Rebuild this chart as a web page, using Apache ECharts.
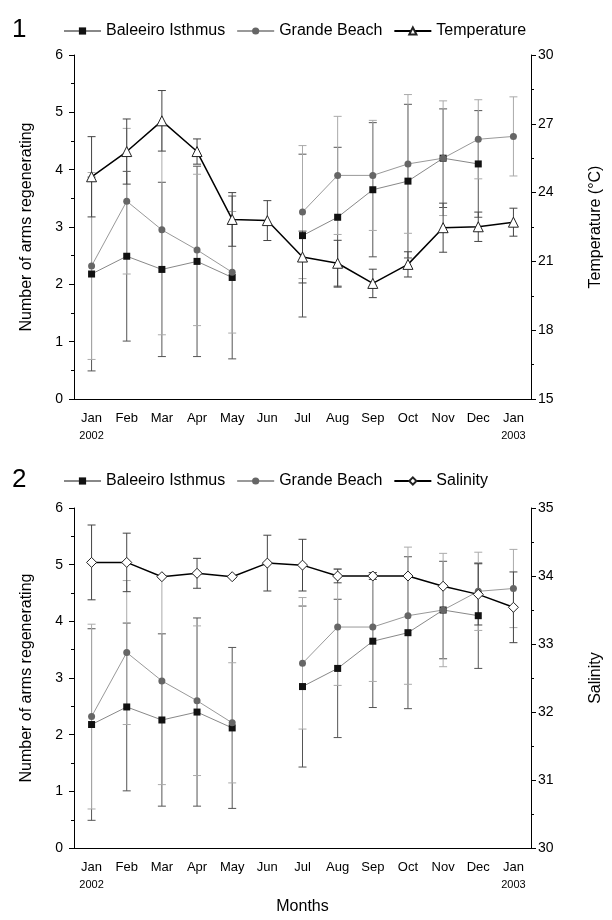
<!DOCTYPE html>
<html>
<head>
<meta charset="utf-8">
<script src="https://cdn.jsdelivr.net/npm/echarts@6/dist/echarts.min.js"></script>
<style>
  html, body { margin: 0; padding: 0; background: #fff; }
  #chart1 { width: 612px; height: 450px; }
  #chart2 { width: 612px; height: 470px; }
</style>
</head>
<body>
<div id="chart1"></div>
<div id="chart2"></div>
<script>
var months = ['Jan', 'Feb', 'Mar', 'Apr', 'May', 'Jun', 'Jul', 'Aug', 'Sep', 'Oct', 'Nov', 'Dec', 'Jan'];
var years = ['2002', '', '', '', '', '', '', '', '', '', '', '', '2003'];

// number of arms regenerating (mean and error)
var baleeiro = [2.18, 2.49, 2.26, 2.40, 2.12, null, 2.85, 3.17, 3.65, 3.80, 4.20, 4.10, null];
var baleeiroErr = [1.69, 1.48, 1.52, 1.66, 1.42, null, 1.42, 1.22, 1.17, 1.34, 0.86, 0.93, null];
var grande = [2.32, 3.45, 2.95, 2.60, 2.21, null, 3.26, 3.90, 3.90, 4.10, 4.20, 4.53, 4.58];
var grandeErr = [1.63, 1.27, 1.83, 1.32, 1.06, null, 1.16, 1.03, 0.96, 1.21, 1.00, 0.69, 0.69];

// environment
var temperature = [24.69, 25.79, 27.13, 25.79, 22.83, 22.78, 21.19, 20.92, 20.04, 20.87, 22.47, 22.51, 22.71];
var temperatureErr = [1.75, 1.42, 1.32, 0.55, 1.17, 0.87, 1.13, 1.00, 0.62, 0.55, 1.07, 0.64, 0.61];
var salinity = [34.20, 34.20, 33.99, 34.04, 33.99, 34.19, 34.16, 34.00, 34.00, 34.00, 33.85, 33.73, 33.54];
var salinityErr = [0.55, 0.43, null, 0.22, null, 0.41, 0.38, 0.10, 0.05, null, null, 0.45, 0.52];

var font = 'Liberation Sans, Arial, sans-serif';
var categories = months.map(function (m, i) { return years[i] ? m + '\n' + years[i] : m; });

function errData(values, errs) {
    var out = [];
    values.forEach(function (v, i) {
        if (v != null && errs[i] != null) out.push([i, v, errs[i]]);
    });
    return out;
}

function errSeries(name, values, errs, color, yIndex) {
    return {
        name: name + ' err',
        type: 'custom',
        yAxisIndex: yIndex,
        silent: true,
        z: 1,
        encode: { x: 0, y: 1 },
        data: errData(values, errs),
        renderItem: function (params, api) {
            var x = api.value(0), v = api.value(1), e = api.value(2);
            var hi = api.coord([x, v + e]);
            var lo = api.coord([x, v - e]);
            var w = 4;
            var st = { stroke: color, lineWidth: 1 };
            return {
                type: 'group',
                children: [
                    { type: 'line', shape: { x1: hi[0], y1: hi[1], x2: lo[0], y2: lo[1] }, style: st },
                    { type: 'line', shape: { x1: hi[0] - w, y1: hi[1], x2: hi[0] + w, y2: hi[1] }, style: st },
                    { type: 'line', shape: { x1: lo[0] - w, y1: lo[1], x2: lo[0] + w, y2: lo[1] }, style: st }
                ]
            };
        }
    };
}

function buildOption(cfg) {
    return {
        animation: false,
        backgroundColor: '#fff',
        title: {
            text: cfg.panel,
            left: 7,
            top: 12,
            textStyle: { fontSize: 26, fontWeight: 'normal', color: '#000', fontFamily: font }
        },
        legend: {
            data: ['Baleeiro Isthmus', 'Grande Beach', cfg.envName],
            left: 58,
            top: 18,
            itemWidth: 37,
            itemHeight: 9,
            itemGap: 11,
            textStyle: { fontSize: 16, color: '#000', fontFamily: font }
        },
        grid: { left: 74, width: 466, top: cfg.gridTop, height: cfg.gridHeight },
        xAxis: {
            type: 'category',
            data: categories,
            boundaryGap: true,
            name: cfg.xName,
            nameLocation: 'middle',
            nameGap: 47,
            nameTextStyle: { fontSize: 16, color: '#000', fontFamily: font },
            axisLine: { lineStyle: { color: '#000', width: 1 } },
            axisTick: { alignWithLabel: true, length: 5, lineStyle: { color: '#000' } },
            axisLabel: {
                interval: 0,
                margin: 10,
                fontSize: 13,
                color: '#000',
                fontFamily: font,
                lineHeight: 18,
                formatter: function (v) {
                    var p = v.split('\n');
                    return p[1] ? p[0] + '\n{y|' + p[1] + '}' : p[0];
                },
                rich: { y: { fontSize: 11, color: '#000', fontFamily: font, lineHeight: 18 } }
            }
        },
        yAxis: [{
            type: 'value',
            min: 0,
            max: 6,
            interval: 1,
            name: 'Number of arms regenerating',
            nameLocation: 'middle',
            nameGap: 39,
            nameTextStyle: { fontSize: 16, color: '#000', fontFamily: font },
            axisLine: { show: true, lineStyle: { color: '#000', width: 1 } },
            axisTick: { show: true, length: 5, lineStyle: { color: '#000' } },
            minorTick: { show: true, splitNumber: 2, length: 3, lineStyle: { color: '#000' } },
            splitLine: { show: false },
            axisLabel: { margin: 11, fontSize: 14, color: '#000', fontFamily: font }
        }, {
            type: 'value',
            position: 'right',
            min: cfg.envMin,
            max: cfg.envMax,
            interval: cfg.envInterval,
            name: cfg.envTitle,
            nameLocation: 'middle',
            nameGap: 57,
            nameTextStyle: { fontSize: 16, color: '#000', fontFamily: font },
            axisLine: { show: true, lineStyle: { color: '#000', width: 1 } },
            axisTick: { show: true, length: 5, lineStyle: { color: '#000' } },
            minorTick: { show: true, splitNumber: 2, length: 3, lineStyle: { color: '#000' } },
            splitLine: { show: false },
            axisLabel: { margin: 7, fontSize: 14, color: '#000', fontFamily: font }
        }],
        series: [
            errSeries('Baleeiro Isthmus', baleeiro, baleeiroErr, '#555', 0),
            errSeries('Grande Beach', grande, grandeErr, '#aaa', 0),
            errSeries(cfg.envName, cfg.env, cfg.envErr, '#444', 1),
            {
                name: 'Baleeiro Isthmus',
                type: 'line',
                data: baleeiro,
                yAxisIndex: 0,
                z: 3,
                symbol: 'rect',
                symbolSize: 7,
                showAllSymbol: true,
                connectNulls: false,
                itemStyle: { color: '#111' },
                lineStyle: { color: '#888', width: 1 }
            },
            {
                name: 'Grande Beach',
                type: 'line',
                data: grande,
                yAxisIndex: 0,
                z: 3,
                symbol: 'circle',
                symbolSize: 7,
                showAllSymbol: true,
                connectNulls: false,
                itemStyle: { color: '#666' },
                lineStyle: { color: '#999', width: 1 }
            },
            {
                name: cfg.envName,
                type: 'line',
                data: cfg.env,
                yAxisIndex: 1,
                z: 4,
                symbol: cfg.envSymbol,
                symbolSize: 10,
                showAllSymbol: true,
                itemStyle: { color: '#fff', borderColor: '#222', borderWidth: 1 },
                lineStyle: { color: '#000', width: 1.5 }
            }
        ]
    };
}

var chart1 = echarts.init(document.getElementById('chart1'));
chart1.setOption(buildOption({
    panel: '1',
    gridTop: 55,
    gridHeight: 344,
    xName: '',
    envName: 'Temperature',
    envTitle: 'Temperature (\u00B0C)',
    envMin: 15,
    envMax: 30,
    envInterval: 3,
    envSymbol: 'triangle',
    env: temperature,
    envErr: temperatureErr
}));

var chart2 = echarts.init(document.getElementById('chart2'));
chart2.setOption(buildOption({
    panel: '2',
    gridTop: 58,
    gridHeight: 345,
    xName: 'Months',
    envName: 'Salinity',
    envTitle: 'Salinity',
    envMin: 30,
    envMax: 35,
    envInterval: 1,
    envSymbol: 'diamond',
    env: salinity,
    envErr: salinityErr
}));
</script>
</body>
</html>
